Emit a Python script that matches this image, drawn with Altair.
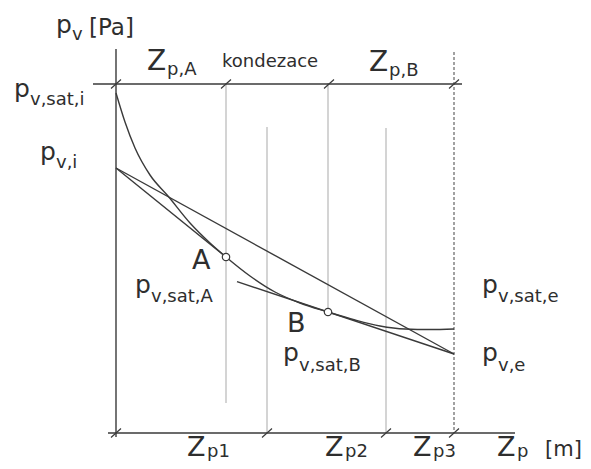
import altair as alt
import pandas as pd

# ---- data (Zp in plot units along the wall, pv in plot units) ----
zp_A = 110          # point A – start of condensation zone
zp_B = 212          # point B – end of condensation zone
zp_1 = 151
zp_2 = 270
zp_3 = 338
top_ticks = [0, 110, 213, 338]
bottom_ticks = [0, 151, 270, 338]

pv_top = 349        # level of pv,sat,i reference line
pv_i = 265
pv_e = 79
p_A = 176
p_B = 121

# saturation pressure curve pv,sat(Zp)
curve_z = [0, 9, 19, 34, 52, 74, 94, 110, 134, 159, 184, 212, 239, 264, 289, 314, 338]
curve_p = [340, 311, 285, 258, 237, 210, 190, 176, 157, 141, 130, 121, 113, 107, 104, 103.5, 104]

# ---- scales ----
XS = alt.Scale(domain=[-108, 467], nice=False, zero=False)
YS = alt.Scale(domain=[-28, 425], nice=False, zero=False)
DARK = "#3a3a3a"
TXT = "#2e2e2e"


def X(f="x"):
    return alt.X(f"{f}:Q", scale=XS, axis=None)


def Y(f="y"):
    return alt.Y(f"{f}:Q", scale=YS, axis=None)


# ---- dark segments ----
tB_start = 121
tB_slope = (pv_e - p_B) / (zp_3 - zp_B)
seg_dark = pd.DataFrame([
    dict(x=0, y=384, x2=0, y2=-4),                 # pv axis
    dict(x=-8, y=0, x2=399, y2=0),                  # Zp axis
    dict(x=-23, y=pv_top, x2=346, y2=pv_top),       # top reference line
    dict(x=0, y=pv_i, x2=zp_3, y2=pv_e),            # pv straight line
    dict(x=0, y=pv_i, x2=zp_A, y2=p_A),             # tangent to A
    dict(x=tB_start, y=p_B + tB_slope * (tB_start - zp_B), x2=zp_3, y2=pv_e),  # tangent through B
])

# slashes
sl = []
for t in top_ticks:
    sl.append(dict(x=t - 5, y=pv_top - 4.5, x2=t + 5, y2=pv_top + 4.5))
for t in bottom_ticks:
    sl.append(dict(x=t - 5, y=-4.5, x2=t + 5, y2=4.5))
seg_slash = pd.DataFrame(sl)

seg_light = pd.DataFrame([
    dict(x=zp_A, y=350, x2=zp_A, y2=30),
    dict(x=zp_1, y=306, x2=zp_1, y2=0),
    dict(x=zp_B, y=350, x2=zp_B, y2=p_B),
    dict(x=zp_2, y=305, x2=zp_2, y2=0),
])
seg_dash = pd.DataFrame([dict(x=zp_3, y=381, x2=zp_3, y2=0)])


def rules(df, color, width, dash=None):
    kw = dict(color=color, strokeWidth=width)
    if dash:
        kw["strokeDash"] = dash
    return alt.Chart(df).mark_rule(**kw).encode(
        x=X("x"), y=Y("y"), x2="x2:Q", y2="y2:Q")


curve = alt.Chart(pd.DataFrame({"x": curve_z, "y": curve_p})).mark_line(
    color=DARK, strokeWidth=1.4, interpolate="monotone").encode(x=X(), y=Y())

pts = alt.Chart(pd.DataFrame({"x": [zp_A, zp_B], "y": [p_A, p_B]})).mark_point(
    shape="circle", size=55, filled=True, fill="white", stroke=DARK, strokeWidth=1.2,
    opacity=1).encode(x=X(), y=Y())

# ---- labels (page-pixel anchors converted to plot units) ----
sub_labels = [
    ("p", "v", 56, 33, 25, 7),
    ("Z", "p,A", 147, 70, 28, 5),
    ("Z", "p,B", 369, 71, 28, 5),
    ("p", "v,sat,i", 14, 97, 25, 8),
    ("p", "v,i", 40, 160, 25, 8),
    ("p", "v,sat,A", 135, 293, 25, 9),
    ("p", "v,sat,B", 283, 361, 25, 10),
    ("p", "v,sat,e", 482, 293, 25, 9),
    ("p", "v,e", 482, 361, 25, 10),
    ("Z", "p1", 187, 456, 27, 1),
    ("Z", "p2", 325, 456, 27, 1),
    ("Z", "p3", 413, 456, 27, 1),
    ("Z", "p", 497, 456, 27, 1),
]
plain_labels = [
    ("[Pa]", 89, 35, 23),
    ("kondezace", 222, 67, 18),
    ("A", 192, 269, 27),
    ("B", 287, 332, 27),
    ("[m]", 545, 456, 21),
]

rows = []
for m, s, px, by, size, dy in sub_labels:
    adv = 16 if m == "p" else 20
    rows.append(dict(t=m, x=px - 116, y=433 - by, s=size))
    rows.append(dict(t=s, x=px + adv - 116, y=433 - (by + dy), s=18))
for t, px, by, size in plain_labels:
    rows.append(dict(t=t, x=px - 116, y=433 - by, s=size))
lab = pd.DataFrame(rows)

texts = alt.Chart(lab).mark_text(
    align="left", baseline="alphabetic", font="DejaVu Sans", color=TXT).encode(
    x=X(), y=Y(), text="t:N", size=alt.Size("s:Q", scale=None, legend=None))

chart = alt.layer(
    rules(seg_light, "#a9a9a9", 1.0),
    rules(seg_dash, "#555555", 1.1, [3, 2]),
    rules(seg_dark, DARK, 1.4),
    rules(seg_slash, DARK, 1.2),
    curve, pts, texts,
).properties(width=575, height=453, padding=0, autosize="none",
             background="white").configure_view(stroke=None)

chart.save("out.html", embed_options={"renderer": "svg", "actions": False})
